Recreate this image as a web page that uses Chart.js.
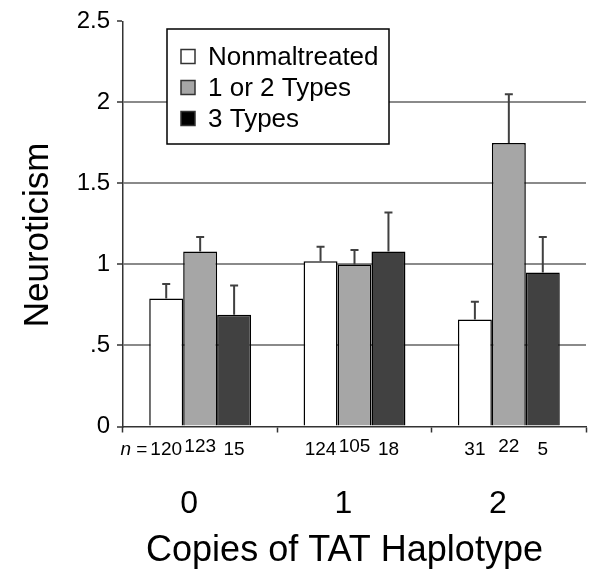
<!DOCTYPE html>
<html><head><meta charset="utf-8">
<script src="https://cdn.jsdelivr.net/npm/chart.js@4.4.0/dist/chart.umd.min.js"></script>
<style>html,body{margin:0;padding:0;background:#fff}#c{display:block}</style>
</head><body>
<canvas id="c" width="601" height="580"></canvas>
<script>
// ---- data ----
const categories = ['0', '1', '2'];
const seriesNames = ['Nonmaltreated', '1 or 2 Types', '3 Types'];
const nonmaltreated = [0.79, 1.02, 0.66];
const oneOrTwoTypes = [1.08, 1.00, 1.75];
const threeTypes = [0.69, 1.08, 0.95];
const nonmaltreatedSE = [0.09, 0.09, 0.11];
const oneOrTwoTypesSE = [0.09, 0.09, 0.30];
const threeTypesSE = [0.18, 0.24, 0.22];
const nonmaltreatedN = [120, 124, 31];
const oneOrTwoTypesN = [123, 105, 22];
const threeTypesN = [15, 18, 5];
const yTickValues = [0, 0.5, 1, 1.5, 2, 2.5];
const yTickLabels = ['0', '.5', '1', '1.5', '2', '2.5'];
const xTitle = 'Copies of TAT Haplotype';
const yTitle = 'Neuroticism';
const nPrefix = 'n';

// ---- styles ----
const FAM = '"Liberation Sans", Arial, Helvetica, sans-serif';
const barColors = ['#ffffff', '#a6a6a6', '#414141'];
const legendColors = ['#ffffff', '#a6a6a6', '#000000'];
const seLists = [nonmaltreatedSE, oneOrTwoTypesSE, threeTypesSE];
const nLists = [nonmaltreatedN, oneOrTwoTypesN, threeTypesN];

const errorBars = {
  id: 'errorBars',
  afterDatasetsDraw(chart) {
    const {ctx} = chart; const y = chart.scales.y;
    ctx.save();
    ctx.strokeStyle = '#404040'; ctx.lineWidth = 2;
    chart.data.datasets.forEach((ds, i) => {
      chart.getDatasetMeta(i).data.forEach((bar, j) => {
        const top = y.getPixelForValue(ds.data[j] + seLists[i][j]);
        ctx.beginPath();
        ctx.moveTo(bar.x, bar.y); ctx.lineTo(bar.x, top);
        ctx.moveTo(bar.x - 4, top); ctx.lineTo(bar.x + 4, top);
        ctx.stroke();
      });
    });
    ctx.restore();
  }
};

const extras = {
  id: 'extras',
  afterDraw(chart) {
    const {ctx, chartArea} = chart;
    const base = chartArea.bottom;
    ctx.save();
    ctx.fillStyle = '#000';
    // n labels
    ctx.font = '19px ' + FAM; ctx.textAlign = 'center'; ctx.textBaseline = 'middle';
    nLists.forEach((list, i) => {
      chart.getDatasetMeta(i).data.forEach((bar, j) => {
        const dy = i === 1 ? 20 : 23;
        ctx.fillText(String(list[j]), bar.x, base + dy);
      });
    });
    const firstBar = chart.getDatasetMeta(0).data[0];
    const w0 = ctx.measureText(String(nLists[0][0])).width;
    const xr = firstBar.x - w0 / 2 - 3;
    ctx.textAlign = 'right';
    ctx.fillText(' =', xr, base + 23);
    const weq = ctx.measureText(' =').width;
    ctx.font = 'italic 19px ' + FAM;
    ctx.fillText(nPrefix, xr - weq, base + 23);

    // legend
    const lx = 167, ly = 29, lw = 222, lh = 115;
    ctx.fillStyle = '#fff'; ctx.fillRect(lx, ly, lw, lh);
    ctx.strokeStyle = '#000'; ctx.lineWidth = 1.5; ctx.strokeRect(lx, ly, lw, lh);
    ctx.font = '26px ' + FAM; ctx.textAlign = 'left'; ctx.textBaseline = 'middle';
    seriesNames.forEach((name, i) => {
      const cy = 56.5 + i * 31;
      ctx.fillStyle = legendColors[i];
      ctx.fillRect(181, cy - 7, 14, 14);
      ctx.strokeStyle = '#333'; ctx.lineWidth = 1.5; ctx.strokeRect(181, cy - 7, 14, 14);
      ctx.fillStyle = '#000';
      ctx.fillText(name, 208, cy + 1);
    });

    // axis titles
    ctx.font = '36px ' + FAM; ctx.textAlign = 'center'; ctx.textBaseline = 'alphabetic';
    ctx.fillText(xTitle, (chartArea.left + chartArea.right) / 2 - 10, 561);
    ctx.save();
    ctx.translate(48, (chartArea.top + chartArea.bottom) / 2 + 11);
    ctx.rotate(-Math.PI / 2);
    ctx.font = '35px ' + FAM;
    ctx.fillText(yTitle, 0, 0);
    ctx.restore();
    ctx.restore();
  }
};

const makeDs = (label, data, i) => ({
  label, data,
  backgroundColor: barColors[i],
  borderColor: '#000', borderWidth: 1.5,
  categoryPercentage: 0.66, barPercentage: 1
});

new Chart(document.getElementById('c'), {
  type: 'bar',
  data: {
    labels: categories,
    datasets: [
      makeDs(seriesNames[0], nonmaltreated, 0),
      makeDs(seriesNames[1], oneOrTwoTypes, 1),
      makeDs(seriesNames[2], threeTypes, 2)
    ]
  },
  options: {
    responsive: false, animation: false, devicePixelRatio: 1,
    layout: {padding: {left: 0, right: 15, top: 12, bottom: 0}},
    plugins: {legend: {display: false}, tooltip: {enabled: false}, title: {display: false}},
    scales: {
      x: {
        grid: {display: true, drawOnChartArea: false, drawTicks: true, tickLength: 6, tickColor: '#333', tickWidth: 1.5, offset: true},
        border: {color: '#333', width: 1.5},
        ticks: {font: {family: FAM, size: 32}, color: '#000', padding: 52, labelOffset: -11, maxRotation: 0, autoSkip: false},
        afterFit(s) { s.height = 153.5; }
      },
      y: {
        min: 0, max: 2.5,
        ticks: {
          stepSize: 0.5, padding: 7, color: '#000', font: {family: FAM, size: 24},
          callback: (v) => yTickLabels[yTickValues.indexOf(Math.round(v * 2) / 2)]
        },
        grid: {
          color: (c) => (c.tick && (c.tick.value === 0 || c.tick.value === 2.5)) ? 'rgba(0,0,0,0)' : '#8a8a8a',
          lineWidth: 2, drawTicks: true, tickLength: 6, tickColor: '#333', tickWidth: 1.5
        },
        border: {color: '#333', width: 1.5},
        afterFit(s) { s.width = 123; }
      }
    }
  },
  plugins: [errorBars, extras]
});
</script>
</body></html>
